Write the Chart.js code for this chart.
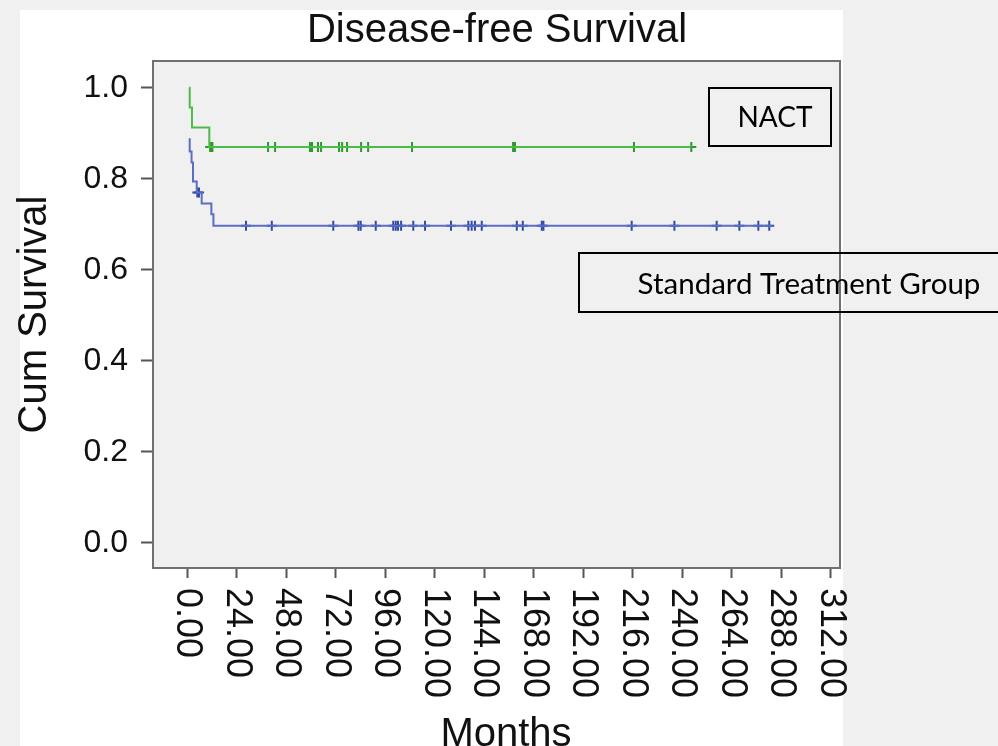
<!DOCTYPE html>
<html>
<head>
<meta charset="utf-8">
<script src="https://cdn.jsdelivr.net/npm/chart.js@4.4.1/dist/chart.umd.min.js"></script>
<style>
  html, body { margin: 0; padding: 0; background: #f0f0f0; }
  #wrap { width: 998px; height: 746px; }
</style>
</head>
<body>
<div id="wrap"><canvas id="myChart" width="998" height="746"></canvas></div>
<script>
// KM steps: months, cumulative survival
const nactTimes = [1.0, 1.3, 2.4, 10.8, 244.5];
const nactSurv = [1.0, 0.957, 0.913, 0.870, 0.870];
const nactCensored = [11.2, 11.8, 12.3, 39.3, 42.7, 59.6, 60.6, 63.5, 65.0, 73.7, 75.2, 77.6, 84.4, 87.8, 109.1, 158.1, 159.0, 216.7, 244.5];

const stdTimes = [0.8, 1.3, 2.2, 2.9, 4.7, 7.1, 11.8, 12.8, 283.5];
const stdSurv = [0.887, 0.860, 0.836, 0.794, 0.770, 0.746, 0.722, 0.697, 0.697];
const stdCensored = [5.0, 5.8, 28.6, 41.1, 70.9, 83.1, 84.2, 91.5, 100.0, 101.2, 102.3, 103.8, 109.7, 115.4, 128.0, 136.4, 138.0, 139.6, 142.9, 159.9, 162.8, 172.0, 172.8, 215.6, 236.3, 256.8, 267.8, 277.0, 282.3];

const xTickValues = [0, 24, 48, 72, 96, 120, 144, 168, 192, 216, 240, 264, 288, 312];
const yTickValues = [0, 0.2, 0.4, 0.6, 0.8, 1.0];

const FONT = '"Liberation Sans", Arial, Helvetica, sans-serif';

function survAt(times, surv, t) {
  let s = surv[0];
  times.forEach((tt, i) => { if (tt <= t) s = surv[i]; });
  return s;
}
const steps = (times, surv) => times.map((t, i) => ({ x: t, y: surv[i] }));
const marks = (cens, times, surv) => cens.map(t => ({ x: t, y: survAt(times, surv, t) }));

const backdrop = {
  id: 'backdrop',
  beforeDraw(chart) {
    const { ctx, chartArea: a } = chart;
    ctx.save();
    ctx.fillStyle = '#f0f0f0';
    ctx.fillRect(0, 0, chart.width, chart.height);
    ctx.fillStyle = '#ffffff';
    ctx.fillRect(20, 10, 823, 736);
    ctx.fillStyle = '#f0f0f0';
    ctx.fillRect(a.left, a.top, a.right - a.left, a.bottom - a.top);
    ctx.restore();
  },
  afterDraw(chart) {
    const { ctx, chartArea: a } = chart;
    const xs = chart.scales.x;
    ctx.save();
    // plot frame
    ctx.strokeStyle = '#707070';
    ctx.lineWidth = 2;
    ctx.strokeRect(a.left, a.top, a.right - a.left, a.bottom - a.top);

    // x tick labels, turned clockwise
    ctx.fillStyle = '#111';
    ctx.font = '36px ' + FONT;
    ctx.textAlign = 'left';
    ctx.textBaseline = 'middle';
    xs.ticks.forEach(t => {
      const px = xs.getPixelForValue(t.value);
      ctx.save();
      ctx.translate(px, a.bottom + 20);
      ctx.rotate(Math.PI / 2);
      ctx.fillText(t.label !== undefined ? t.label : t.value.toFixed(2), 0, 0);
      ctx.restore();
    });

    // titles
    ctx.textAlign = 'center';
    ctx.textBaseline = 'alphabetic';
    ctx.font = '40px ' + FONT;
    ctx.fillText('Disease-free Survival', 497, 42);
    ctx.fillText('Months', 506, 746);

    // group labels
    ctx.strokeStyle = '#000';
    ctx.lineWidth = 2;
    ctx.strokeRect(709, 88, 122, 58);
    ctx.strokeRect(579, 253, 440, 59);
    ctx.fillStyle = '#000';
    ctx.textBaseline = 'middle';
    ctx.font = '28px Lato, "Open Sans", sans-serif';
    ctx.fillText('NACT', 775, 118);
    ctx.font = '29.5px Lato, "Open Sans", sans-serif';
    ctx.fillText('Standard Treatment Group', 809, 284);
    ctx.restore();
  }
};

const ctx = document.getElementById('myChart');
new Chart(ctx, {
  type: 'line',
  data: {
    datasets: [
      {
        label: 'NACT',
        data: steps(nactTimes, nactSurv),
        stepped: true,
        borderColor: '#4cbb4c',
        borderWidth: 2,
        pointRadius: 0
      },
      {
        label: 'NACT censored',
        data: marks(nactCensored, nactTimes, nactSurv),
        showLine: false,
        pointStyle: 'cross',
        pointRadius: 5,
        pointBorderWidth: 2,
        borderColor: '#2a9a2a'
      },
      {
        label: 'Standard Treatment Group',
        data: steps(stdTimes, stdSurv),
        stepped: true,
        borderColor: '#5a6fc2',
        borderWidth: 2,
        pointRadius: 0
      },
      {
        label: 'Standard censored',
        data: marks(stdCensored, stdTimes, stdSurv),
        showLine: false,
        pointStyle: 'cross',
        pointRadius: 5,
        pointBorderWidth: 2,
        borderColor: '#3249a8'
      }
    ]
  },
  options: {
    responsive: false,
    animation: false,
    devicePixelRatio: 1,
    layout: { padding: { left: 0, top: 61, right: 158, bottom: 0 } },
    plugins: {
      legend: { display: false },
      tooltip: { enabled: false }
    },
    scales: {
      x: {
        type: 'linear',
        min: -16.5,
        max: 316.6,
        afterBuildTicks: s => { s.ticks = xTickValues.map(v => ({ value: v })); },
        afterFit: s => { s.height = 178; },
        ticks: { display: false, autoSkip: false, callback: v => Number(v).toFixed(2) },
        grid: { drawOnChartArea: false, tickLength: 10, tickColor: '#555', tickWidth: 2 },
        border: { display: false }
      },
      y: {
        type: 'linear',
        min: -0.055,
        max: 1.059,
        afterBuildTicks: s => { s.ticks = yTickValues.map(v => ({ value: v })); },
        afterFit: s => { s.width = 153; },
        ticks: {
          padding: 13,
          color: '#111',
          font: { size: 32, family: FONT },
          callback: v => Number(v).toFixed(1)
        },
        grid: { drawOnChartArea: false, tickLength: 12, tickColor: '#555', tickWidth: 2 },
        border: { display: false },
        title: {
          display: true,
          text: 'Cum Survival',
          color: '#111',
          font: { size: 40, family: FONT },
          padding: { top: 11, bottom: 0 }
        }
      }
    }
  },
  plugins: [backdrop]
});
</script>
</body>
</html>
